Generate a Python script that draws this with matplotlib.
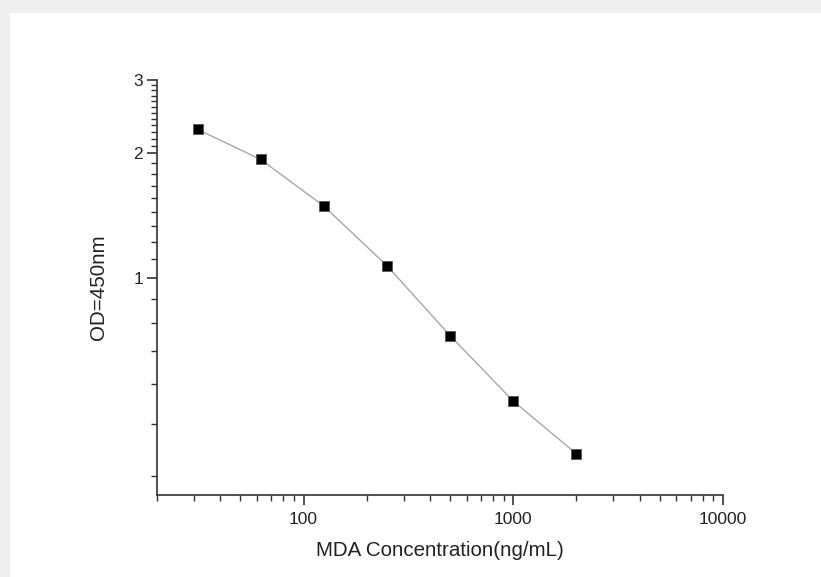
import matplotlib
matplotlib.use('Agg')
import matplotlib.pyplot as plt
from matplotlib.patches import Rectangle
import numpy as np

# standard curve data
conc = [31.25, 62.5, 125, 250, 500, 1000, 2000]
od = [2.28, 1.93, 1.49, 1.07, 0.726, 0.505, 0.377]

x_major = [100, 1000, 10000]
y_major = [1, 2, 3]

plt.rcParams['font.family'] = ['Liberation Sans', 'DejaVu Sans']

fig = plt.figure(figsize=(8.21, 5.77), dpi=100)
fig.patch.set_facecolor('#efefef')
# white panel inside the grey frame
fig.patches.append(Rectangle((10 / 821, 0), 1, 1 - 13 / 577, transform=fig.transFigure,
                             facecolor='white', edgecolor='none', zorder=-10))

ax = fig.add_axes([157 / 821, 1 - 495 / 577, (723 - 157) / 821, (495 - 80) / 577])
ax.set_facecolor('none')
ax.set_zorder(5)

ax.plot(conc, od, '-', color='#a8a8a8', lw=1.0, zorder=2)
ax.plot(conc, od, 's', color='black', ms=6.5, mec='#555555', mew=0.6, zorder=3)

ax.set_xscale('log')
ax.set_yscale('log')
ax.set_xlim(20, 10000)
ax.set_ylim(0.3, 3)

ax.set_xticks(x_major)
ax.set_xticklabels([str(v) for v in x_major])
x_minor = [m * d for d in [10, 100, 1000] for m in range(2, 10) if 20 <= m * d < 10000]
ax.set_xticks(x_minor, minor=True)

ax.set_yticks(y_major)
ax.set_yticklabels([str(v) for v in y_major])
y_minor = [k / 9 for k in range(3, 9)] + [1 + k / 9 for k in range(1, 9)] + [2 + k / 12 for k in range(1, 12)]
ax.set_yticks(y_minor, minor=True)
ax.yaxis.set_minor_formatter(plt.NullFormatter())
ax.xaxis.set_minor_formatter(plt.NullFormatter())

for s in ['top', 'right']:
    ax.spines[s].set_visible(False)
for s in ['left', 'bottom']:
    ax.spines[s].set_color('#333333')
    ax.spines[s].set_linewidth(1.2)

ax.tick_params(which='major', direction='out', length=7, width=1.2, color='#333333',
               labelsize=12.5, labelcolor='#222222', pad=3)
ax.tick_params(axis='x', which='major', pad=5)
ax.tick_params(which='minor', direction='out', length=4, width=1.0, color='#333333')

ax.set_xlabel('MDA Concentration(ng/mL)', fontsize=14.8, color='#222222', labelpad=10)
ax.set_ylabel('OD=450nm', fontsize=14.8, color='#222222', labelpad=18)

fig.savefig('out.png', dpi=100, facecolor=fig.get_facecolor())
